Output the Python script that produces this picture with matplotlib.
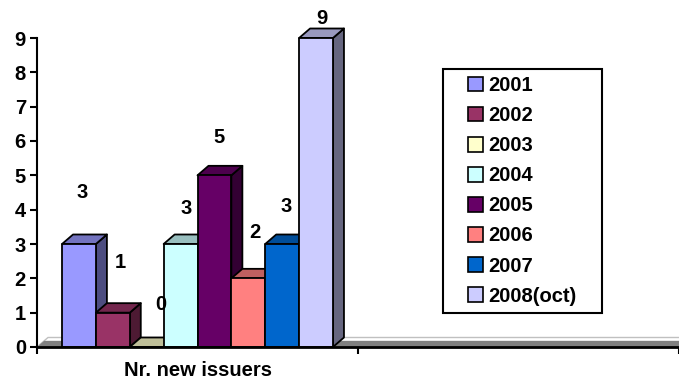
import matplotlib
matplotlib.use('Agg')
import matplotlib.pyplot as plt
from matplotlib.patches import Polygon, Patch, Rectangle
import numpy as np

plt.rcParams['font.family'] = ['Liberation Sans', 'DejaVu Sans']
plt.rcParams['font.weight'] = 'bold'

# ---------------------------------------------------------------------------
# Data
# ---------------------------------------------------------------------------
CATEGORY = "Nr. new issuers"
YEARS = ["2001", "2002", "2003", "2004", "2005", "2006", "2007", "2008(oct)"]
NEW_ISSUERS = [3, 1, 0, 3, 5, 2, 3, 9]

# front / top / side face colours per series (classic office palette)
FRONT = ["#9999FF", "#993366", "#FFFFCC", "#CCFFFF",
         "#660066", "#FF8080", "#0066CC", "#CCCCFF"]
TOP = ["#7373BF", "#73264D", "#BFBF99", "#99BFBF",
       "#4D004D", "#BF6060", "#004D99", "#9999BF"]
SIDE = ["#4D4D80", "#4D1A33", "#80805F", "#668080",
        "#330033", "#804040", "#003366", "#666680"]

# value label nudges (pixels right, pixels up from bar top)
LABEL_NUDGE = [(3, 52), (7.5, 50), (14, 42), (5.5, 35),
               (5, 38), (7, 46), (4, 37), (5.5, 19)]

FS = 14.5

W, H = 679, 385
fig = plt.figure(figsize=(W / 100, H / 100), dpi=100)
ax = fig.add_axes([37 / W, 38 / H, (W - 37) / W, 309 / H])
ax.set_xlim(0, 2)
ax.set_ylim(0, 9)

# pixel -> data conversion
px_x = 2 / (W - 37)
px_y = 9 / 309
DX, DY = 11 * px_x, 9.5 * px_y  # depth offset of the 3d boxes

# floor
ax.add_patch(Polygon([(0, 0), (2.2, 0), (2.2 + DX, DY), (DX, DY)],
                     closed=True, facecolor="white", edgecolor="#C0C0C0",
                     linewidth=1, clip_on=False, zorder=1))
ax.add_patch(Polygon([(0, 0), (2.2, 0), (2.2 + DX * 0.65, DY * 0.65),
                      (DX * 0.65, DY * 0.65)],
                     closed=True, facecolor="#808080", edgecolor="none",
                     clip_on=False, zorder=1.5))

bw = 0.1055
x0 = 0.5 - len(YEARS) * bw / 2
lw = 1.3
for i, (val, fc, tc, sc) in enumerate(zip(NEW_ISSUERS, FRONT, TOP, SIDE)):
    left = x0 + i * bw
    right = left + bw
    z = 2 + i
    side = Polygon([(right, 0), (right + DX, DY), (right + DX, val + DY), (right, val)],
                   closed=True, facecolor=sc, edgecolor="black", linewidth=lw,
                   joinstyle="round", clip_on=False, zorder=z)
    top = Polygon([(left, val), (right, val), (right + DX, val + DY), (left + DX, val + DY)],
                  closed=True, facecolor=tc, edgecolor="black", linewidth=lw,
                  joinstyle="round", clip_on=False, zorder=z)
    front = Rectangle((left, 0), bw, val, facecolor=fc, edgecolor="black",
                      linewidth=lw, joinstyle="round", clip_on=False, zorder=z + 0.5)
    for p in (side, top, front):
        ax.add_patch(p)

    ndx, ndy = LABEL_NUDGE[i]
    ax.annotate(str(val), xy=(left + bw / 2, val), xytext=(ndx * 0.72, ndy * 0.72),
                textcoords="offset points", ha="center", va="center",
                fontsize=FS, fontweight="bold", zorder=20)

# axes styling
for s in ("top", "right"):
    ax.spines[s].set_visible(False)
ax.spines["left"].set_linewidth(1.5)
ax.spines["bottom"].set_linewidth(2)
ax.spines["left"].set_zorder(30)
ax.spines["bottom"].set_zorder(30)
ax.set_yticks(np.arange(0, 10))
ax.set_xticks([0, 1, 2])
ax.set_xticklabels([])
ax.tick_params(axis="y", direction="out", length=5, width=1.5, labelsize=FS, pad=3)
ax.tick_params(axis="x", direction="out", length=5, width=1.5)
for t in ax.get_yticklabels():
    t.set_fontweight("bold")
ax.text(0.5, -23 * px_y, CATEGORY, ha="center", va="center",
        fontsize=FS, fontweight="bold")

# legend with its own square frame
fig.patches.append(Rectangle((443 / W, 1 - 313 / H), 159 / W, 244 / H,
                             transform=fig.transFigure, facecolor="white",
                             edgecolor="black", linewidth=1.5, zorder=40))
handles = [Patch(facecolor=c, edgecolor="black", linewidth=1.2) for c in FRONT]
leg = fig.legend(handles, YEARS, loc="upper left",
                 bbox_to_anchor=(458 / W, 1 - 66 / H), frameon=False,
                 prop={"size": FS, "weight": "bold"}, borderpad=0,
                 labelspacing=0.55, handlelength=0.75, handleheight=0.75,
                 handletextpad=0.25)
leg.set_zorder(41)

fig.savefig("out.png", dpi=100)
